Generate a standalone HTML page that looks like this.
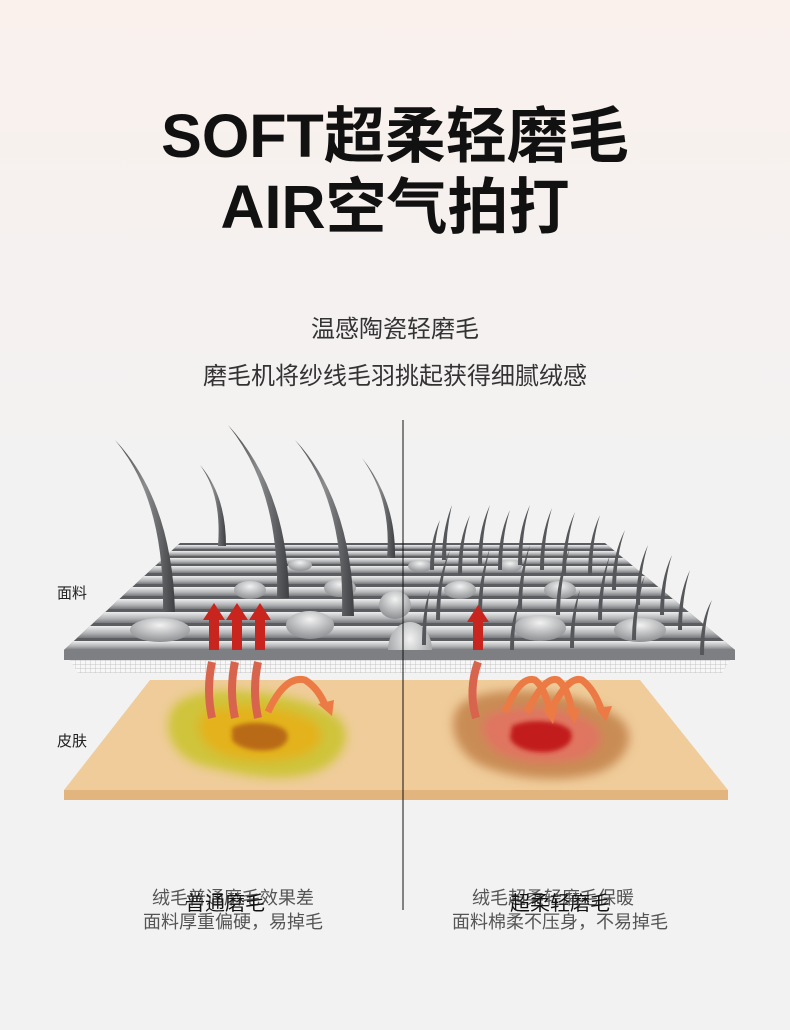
<!DOCTYPE html>
<html><head><meta charset="utf-8"><style>
html,body{margin:0;padding:0}
body{width:790px;height:1030px;overflow:hidden;background:linear-gradient(#faf1ed 0,#f4f1f0 300px,#f2f2f2 500px,#f2f2f2 100%);font-family:"Liberation Sans","Noto Sans CJK SC",sans-serif}
svg{position:absolute;left:0;top:0}
</style></head><body>
<svg width="790" height="1030" viewBox="0 0 790 1030" xmlns="http://www.w3.org/2000/svg">
<defs>
<linearGradient id="thr" x1="0" y1="0" x2="0" y2="1"><stop offset="0" stop-color="#eeeeee"/><stop offset="0.6" stop-color="#b0b2b4"/><stop offset="1" stop-color="#77797c"/></linearGradient>
<radialGradient id="bump" cx="0.5" cy="0.3" r="0.7"><stop offset="0" stop-color="#f2f2f2"/><stop offset="1" stop-color="#8d8f92"/></radialGradient>
<pattern id="grid" width="5" height="4" patternUnits="userSpaceOnUse"><rect width="5" height="4" fill="#f7f7f7"/><path d="M0 0H5M0 0V4" stroke="#b5b5b5" stroke-width="0.7"/></pattern>
<filter id="bl" x="-30%" y="-30%" width="160%" height="160%"><feGaussianBlur stdDeviation="5"/></filter>
<filter id="bl2" x="-30%" y="-30%" width="160%" height="160%"><feGaussianBlur stdDeviation="2"/></filter>
<linearGradient id="hair" x1="0" y1="0" x2="1" y2="0"><stop offset="0" stop-color="#3e4043"/><stop offset="0.5" stop-color="#8a8c8e"/><stop offset="1" stop-color="#3e4043"/></linearGradient>
<clipPath id="fc"><polygon points="180,543 605,543 735,650 64,650"/></clipPath>
</defs>
<text x="395" y="157" text-anchor="middle" font-size="61" font-weight="bold" fill="#111">SOFT超柔轻磨毛</text>
<text x="395" y="228" text-anchor="middle" font-size="61" font-weight="bold" fill="#111">AIR空气拍打</text>
<text x="395" y="337" text-anchor="middle" font-size="24" fill="#333">温感陶瓷轻磨毛</text>
<text x="395" y="384" text-anchor="middle" font-size="24" fill="#333">磨毛机将纱线毛羽挑起获得细腻绒感</text>
<polygon points="150,680 640,680 728,790 64,790" fill="#efcc9a"/>
<polygon points="64,790 728,790 728,800 64,800" fill="#e2b47e"/>
<g filter="url(#bl)">
<path d="M175,705 C200,680 290,690 330,712 C355,725 350,755 320,770 C285,785 240,775 200,765 C170,755 160,725 175,705Z" fill="#cfc43a"/>
<path d="M205,712 C235,700 290,705 315,722 C330,735 320,752 295,758 C260,766 225,760 210,748 C195,735 195,720 205,712Z" fill="#e3b21a"/>
<path d="M460,705 C490,680 580,690 615,715 C640,730 630,760 600,772 C560,785 510,778 480,765 C455,752 445,722 460,705Z" fill="#c98c54"/>
<path d="M488,715 C520,700 575,708 595,725 C608,738 598,755 575,760 C545,766 510,762 495,750 C480,738 478,722 488,715Z" fill="#e07560"/>
</g>
<g filter="url(#bl2)">
<path d="M232,728 C245,720 275,722 285,730 C292,738 285,748 270,750 C255,752 238,748 232,740Z" fill="#b96a12"/>
<path d="M512,726 C528,718 560,720 570,730 C576,740 566,750 548,752 C530,753 514,748 510,738Z" fill="#c21e1e"/>
</g>
<g clip-path="url(#fc)">
<rect x="60" y="540" width="680" height="112" fill="#5b5d60"/>
<rect x="60" y="545" width="680" height="4" fill="url(#thr)"/>
<rect x="60" y="551" width="680" height="5" fill="url(#thr)"/>
<rect x="60" y="558" width="680" height="6" fill="url(#thr)"/>
<rect x="60" y="566" width="680" height="7" fill="url(#thr)"/>
<rect x="60" y="576" width="680" height="8" fill="url(#thr)"/>
<rect x="60" y="587" width="680" height="9" fill="url(#thr)"/>
<rect x="60" y="599" width="680" height="10" fill="url(#thr)"/>
<rect x="60" y="612" width="680" height="11" fill="url(#thr)"/>
<rect x="60" y="626" width="680" height="12" fill="url(#thr)"/>
<rect x="60" y="641" width="680" height="9" fill="url(#thr)"/>
<g fill="url(#bump)">
<ellipse cx="410" cy="650" rx="22" ry="28"/><ellipse cx="395" cy="605" rx="16" ry="14"/>
<ellipse cx="310" cy="625" rx="24" ry="14"/><ellipse cx="160" cy="630" rx="30" ry="12"/>
<ellipse cx="540" cy="628" rx="26" ry="13"/><ellipse cx="640" cy="630" rx="26" ry="12"/>
<ellipse cx="340" cy="588" rx="16" ry="9"/><ellipse cx="460" cy="590" rx="16" ry="9"/>
<ellipse cx="250" cy="590" rx="16" ry="9"/><ellipse cx="560" cy="590" rx="16" ry="9"/>
<ellipse cx="300" cy="565" rx="12" ry="6"/><ellipse cx="420" cy="566" rx="12" ry="6"/><ellipse cx="510" cy="566" rx="12" ry="6"/>
</g>
</g>
<polygon points="64,650 735,650 735,660 64,660" fill="#7d7f82"/>
<polygon points="70,660 730,660 722,673 78,673" fill="url(#grid)"/>
<g fill="url(#hair)">
<path d="M115,440 Q165,500 163,612 L175,612 Q172,500 115,440Z"/>
<path d="M200,465 Q222,495 218,546 L226,546 Q226,495 200,465Z"/>
<path d="M228,425 Q280,490 277,598 L289,598 Q288,490 228,425Z"/>
<path d="M295,440 Q345,500 342,616 L354,616 Q352,500 295,440Z"/>
<path d="M362,458 Q392,500 387,558 L395,558 Q396,500 362,458Z"/>
</g>
<g fill="#55575a">
<path d="M440,520 Q430,540 430,570 L434,570 Q434,540 440,520Z"/>
<path d="M452,505 Q442,530 442,560 L446,560 Q446,530 452,505Z"/>
<path d="M470,515 Q458,540 458,575 L462,575 Q462,540 470,515Z"/>
<path d="M490,505 Q478,530 478,565 L482,565 Q482,530 490,505Z"/>
<path d="M510,510 Q498,535 498,570 L502,570 Q502,535 510,510Z"/>
<path d="M530,505 Q518,530 518,565 L522,565 Q522,530 530,505Z"/>
<path d="M552,508 Q540,535 540,570 L544,570 Q544,535 552,508Z"/>
<path d="M575,512 Q562,540 562,575 L566,575 Q566,540 575,512Z"/>
<path d="M600,515 Q588,540 588,575 L592,575 Q592,540 600,515Z"/>
<path d="M625,530 Q612,555 612,590 L616,590 Q616,555 625,530Z"/>
<path d="M648,545 Q636,570 636,605 L640,605 Q640,570 648,545Z"/>
<path d="M672,555 Q660,580 660,615 L664,615 Q664,580 672,555Z"/>
<path d="M690,570 Q678,595 678,630 L682,630 Q682,595 690,570Z"/>
<path d="M712,600 Q700,620 700,655 L704,655 Q704,620 712,600Z"/>
<path d="M450,550 Q436,580 436,620 L440,620 Q440,580 450,550Z"/>
<path d="M490,548 Q478,580 478,615 L482,615 Q482,580 490,548Z"/>
<path d="M530,545 Q518,575 518,610 L522,610 Q522,575 530,545Z"/>
<path d="M570,548 Q556,580 556,615 L560,615 Q560,580 570,548Z"/>
<path d="M610,555 Q598,585 598,620 L602,620 Q602,585 610,555Z"/>
<path d="M645,575 Q632,605 632,640 L636,640 Q636,605 645,575Z"/>
<path d="M430,590 Q422,610 422,645 L426,645 Q426,610 430,590Z"/>
<path d="M520,600 Q510,620 510,650 L514,650 Q514,620 520,600Z"/>
<path d="M580,590 Q570,615 570,648 L574,648 Q574,615 580,590Z"/>
</g>
<g fill="#c8251f">
<path d="M209,650 L209,620 L203,620 L214,603 L225,620 L219,620 L219,650Z"/>
<path d="M232,650 L232,620 L226,620 L237,603 L248,620 L242,620 L242,650Z"/>
<path d="M255,650 L255,620 L249,620 L260,603 L271,620 L265,620 L265,650Z"/>
<path d="M473,650 L473,622 L467,622 L478,605 L489,622 L483,622 L483,650Z"/>
</g>
<g stroke="#d9644e" stroke-width="8" fill="none">
<path d="M212,662 Q206,690 212,718"/><path d="M235,662 Q229,690 235,718"/><path d="M258,662 Q252,690 258,718"/><path d="M478,662 Q468,690 476,718"/>
</g>
<g stroke="#ec7a45" stroke-width="7" fill="none">
<path d="M268,712 Q285,675 305,680 Q318,688 325,705"/>
<path d="M505,712 Q520,675 535,680 Q545,688 550,712"/>
<path d="M527,712 Q545,675 558,680 Q568,688 572,712"/>
<path d="M550,712 Q568,675 582,680 Q595,690 602,712"/>
</g>
<g fill="#ec7a45">
<path d="M318,704 L334,700 L332,716Z"/><path d="M543,710 L558,708 L553,724Z"/><path d="M566,710 L580,708 L575,724Z"/><path d="M596,708 L612,706 L606,722Z"/>
</g>
<line x1="403" y1="420" x2="403" y2="910" stroke="#111" stroke-width="1"/>
<text x="57" y="598" font-size="15" fill="#222">面料</text>
<text x="57" y="746" font-size="15" fill="#222">皮肤</text>
<g font-size="18" fill="#555" text-anchor="middle">
<text x="233" y="904">绒毛普通磨毛效果差</text>
<text x="233" y="928">面料厚重偏硬，易掉毛</text>
<text x="553" y="904">绒毛超柔轻磨毛保暖</text>
<text x="560" y="928">面料棉柔不压身，不易掉毛</text>
</g>
<g font-size="20" fill="#111" text-anchor="middle">
<text x="225" y="910">普通磨毛</text>
<text x="560" y="910">超柔轻磨毛</text>
</g>
</svg>
</body></html>
